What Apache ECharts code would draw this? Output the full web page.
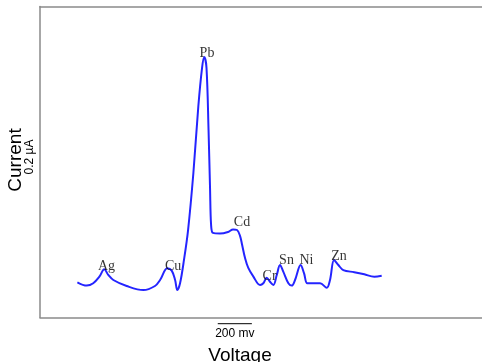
<!DOCTYPE html>
<html>
<head>
<meta charset="utf-8">
<script src="https://cdn.jsdelivr.net/npm/echarts@6/dist/echarts.min.js"></script>
<style>html,body{margin:0;padding:0;background:#fff}#c{width:482px;height:362px}</style>
</head>
<body>
<div id="c"></div>
<script>
// Voltage (mV) and current (µA)
var voltage = [219,274,312,348,377,400,430,508,606,674,704,746,772,792,805,821,844,868,899,928,950,963,976,988,997,1003,1014,1055,1102,1132,1155,1173,1185,1202,1221,1251,1290,1309,1329,1348,1368,1388,1407,1426,1456,1476,1495,1528,1548,1567,1602,1642,1681,1700,1724,1749,1778,1842,1901,1960,2003];
var current = [0.181,0.164,0.176,0.210,0.248,0.219,0.193,0.162,0.141,0.162,0.193,0.253,0.241,0.193,0.141,0.176,0.296,0.450,0.742,1.085,1.284,1.340,1.284,0.965,0.656,0.476,0.435,0.432,0.440,0.453,0.450,0.419,0.373,0.306,0.255,0.210,0.167,0.176,0.205,0.184,0.167,0.219,0.270,0.236,0.176,0.164,0.193,0.270,0.227,0.176,0.176,0.176,0.153,0.193,0.296,0.270,0.244,0.233,0.222,0.210,0.215];
// Peak labels
var peakNames = ['Ag','Cu','Pb','Cd','Cr','Sn','Ni','Zn'];
var peakVoltage = [390,780,979,1184,1346,1445,1562,1753];
var peakCurrent = [0.265,0.265,1.361,0.491,0.214,0.296,0.296,0.316];
var scaleBarStart = 1042, scaleBarLength = 200; // mV

var chart = echarts.init(document.getElementById('c'), null, {renderer:'canvas'});
var lineData = voltage.map(function(v,i){return [v,current[i]];});
var peakData = peakNames.map(function(n,i){return {name:n,value:[peakVoltage[i],peakCurrent[i]]};});
var frame = {show:true,onZero:false,lineStyle:{color:'#8a8a8a',width:1.5}};
chart.setOption({
  animation:false,
  grid:{left:40,top:6.5,right:0,bottom:44.5,show:false},
  xAxis:[
    {type:'value',min:0,max:2591,position:'bottom',axisLine:frame,axisTick:{show:false},axisLabel:{show:false},splitLine:{show:false}},
    {type:'value',min:0,max:2591,position:'top',axisLine:frame,axisTick:{show:false},axisLabel:{show:false},splitLine:{show:false}}
  ],
  yAxis:{type:'value',min:0,max:1.6,position:'left',axisLine:frame,axisTick:{show:false},axisLabel:{show:false},splitLine:{show:false}},
  series:[
    {type:'line',data:lineData,smooth:0.35,showSymbol:false,lineStyle:{color:'#2424ff',width:2},z:2},
    {type:'scatter',data:peakData,symbolSize:0,z:3,
     label:{show:true,position:'inside',formatter:'{b}',fontFamily:'Liberation Serif',fontSize:14,color:'#000'}}
  ]
});
var p0 = chart.convertToPixel({gridIndex:0},[scaleBarStart,0]);
var p1 = chart.convertToPixel({gridIndex:0},[scaleBarStart+scaleBarLength,0]);
chart.setOption({graphic:[
  {type:'text',x:16,y:160,rotation:Math.PI/2,style:{text:'Current',fontFamily:'Liberation Sans',fontSize:19,fill:'#000',align:'center',verticalAlign:'middle'}},
  {type:'text',x:29.5,y:157,rotation:Math.PI/2,style:{text:'0.2 µA',fontFamily:'Liberation Sans',fontSize:12,fill:'#000',align:'center',verticalAlign:'middle'}},
  {type:'line',shape:{x1:p0[0],y1:323.7,x2:p1[0],y2:323.7},style:{stroke:'#000',lineWidth:1}},
  {type:'text',x:(p0[0]+p1[0])/2,y:334,style:{text:'200 mv',fontFamily:'Liberation Sans',fontSize:12,fill:'#000',align:'center',verticalAlign:'middle'}},
  {type:'text',x:240,y:356,style:{text:'Voltage',fontFamily:'Liberation Sans',fontSize:19,fill:'#000',align:'center',verticalAlign:'middle'}}
]});
</script>
</body>
</html>
